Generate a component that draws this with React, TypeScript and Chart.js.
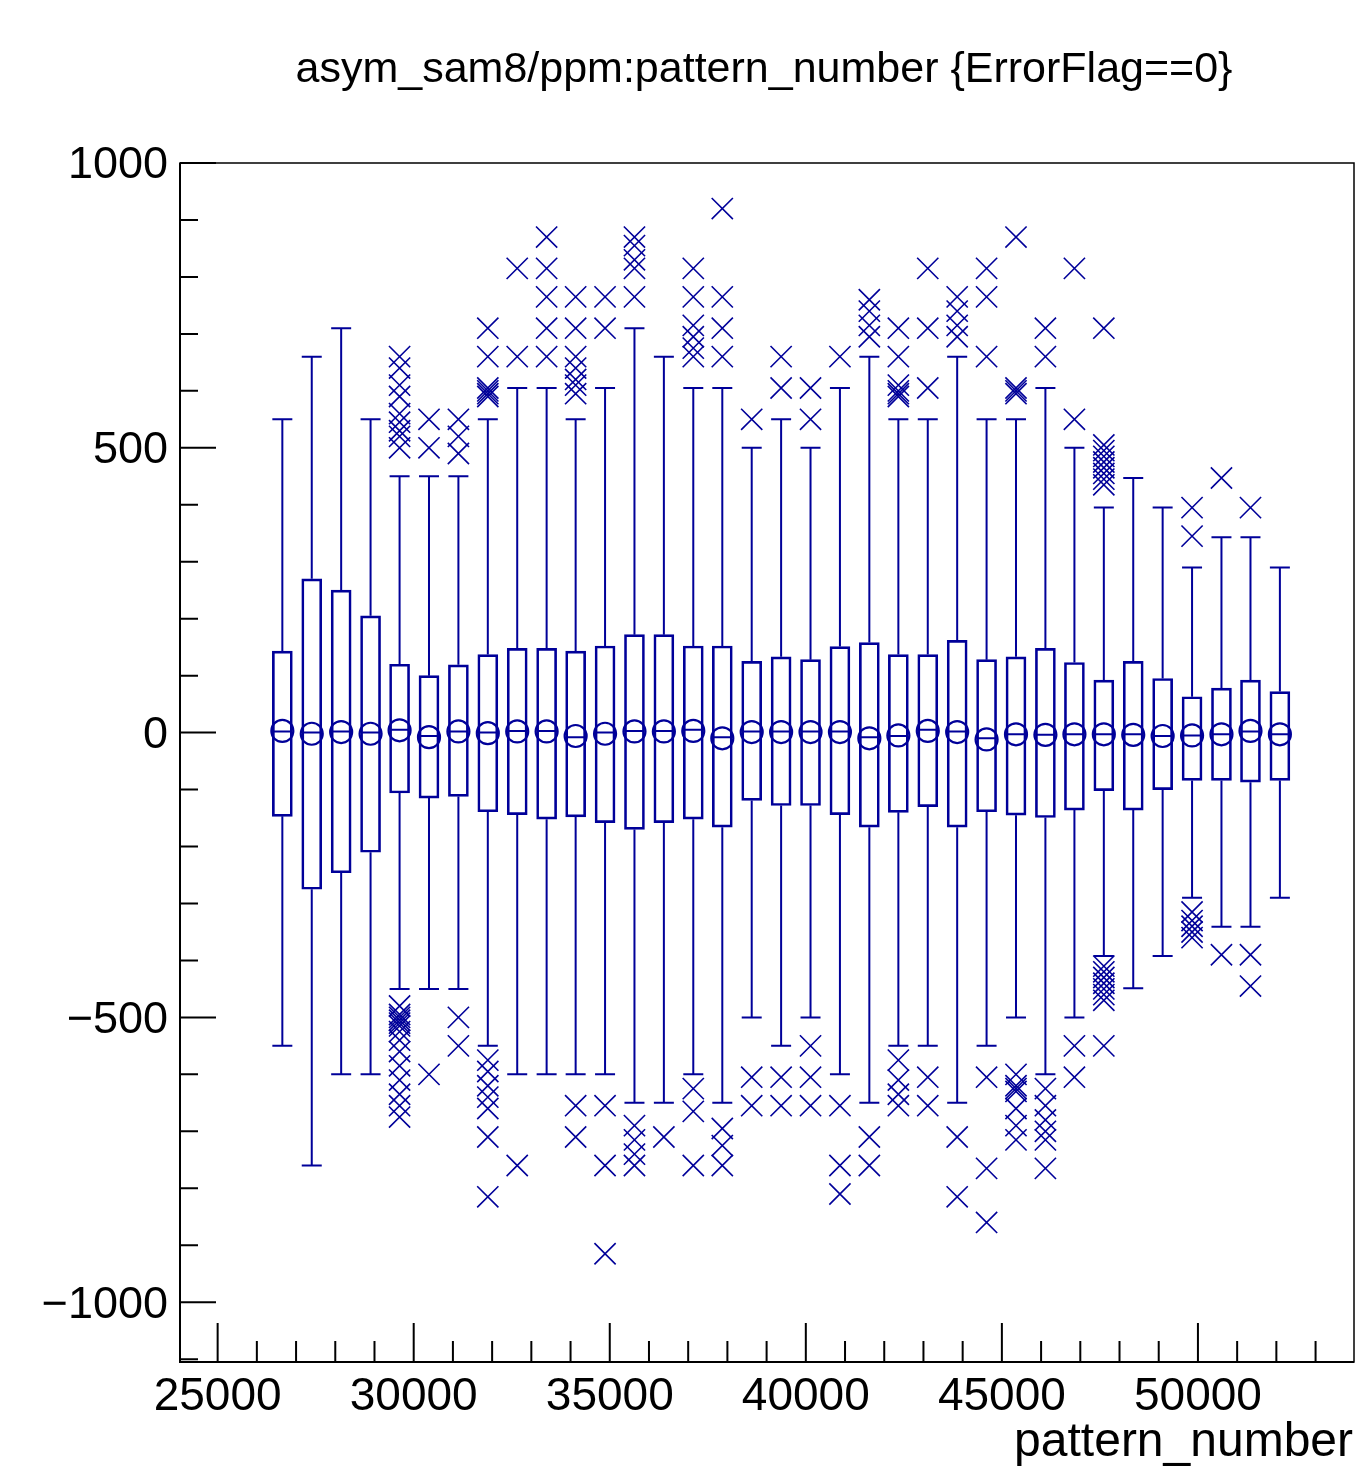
import React, { useEffect, useRef } from 'react';
import { Chart, registerables } from 'chart.js';

Chart.register(...registerables);

const TITLE = 'asym_sam8/ppm:pattern_number {ErrorFlag==0}';
const X_TITLE = 'pattern_number';

const X_MIN = 24040;
const X_MAX = 53980;
const Y_MIN = -1105;
const Y_MAX = 1000;

const X_MAJOR_TICKS = [25000, 30000, 35000, 40000, 45000, 50000];
const Y_MAJOR_TICKS = [-1000, -500, 0, 500, 1000];

// bin centres (pattern_number)
const BIN_CENTERS = [
  26650, 27400, 28150, 28900, 29640, 30390, 31140, 31890, 32640, 33390,
  34130, 34880, 35630, 36380, 37130, 37870, 38620, 39370, 40120, 40870,
  41620, 42360, 43110, 43860, 44610, 45360, 46110, 46850, 47600, 48350,
  49100, 49850, 50600, 51340, 52090,
];

const WHISKER_HI = [
  550, 660, 710, 550, 450, 450, 450, 550, 605, 605,
  550, 605, 710, 660, 605, 605, 500, 550, 500, 605,
  660, 550, 550, 660, 550, 550, 605, 500, 395, 447,
  395, 290, 343, 343, 290,
];
const Q3 = [
  143, 270, 250, 205, 120, 100, 119, 137, 148, 148,
  143, 152, 172, 172, 152, 152, 125, 133, 128, 151,
  158, 137, 137, 162, 128, 133, 148, 123, 92, 125,
  95, 63, 78, 92, 72,
];
const MEDIAN = [
  2, 0, 2, 0, 5, -6, 2, 0, 3, 3,
  -8, 0, 3, 3, 5, -8, 2, 2, 2, 2,
  -8, -6, 5, 2, -10, -3, -4, -3, -3, -3,
  -6, -5, -3, 2, -3,
];
const MEAN = [
  3, -2, 1, -2, 4, -8, 2, -1, 2, 2,
  -6, -2, 2, 2, 3, -10, 1, 1, 1, 1,
  -10, -5, 3, 1, -12, -3, -4, -3, -3, -4,
  -6, -5, -3, 3, -3,
];
const Q1 = [
  -147, -275, -246, -210, -106, -115, -112, -139, -144, -152,
  -148, -158, -170, -158, -152, -166, -119, -128, -128, -144,
  -166, -140, -130, -166, -139, -145, -149, -136, -102, -136,
  -100, -84, -84, -87, -84,
];
const WHISKER_LO = [
  -550, -760, -600, -600, -450, -450, -450, -550, -600, -600,
  -600, -600, -650, -650, -600, -650, -500, -550, -500, -600,
  -650, -550, -550, -650, -550, -500, -600, -500, -392, -449,
  -392, -290, -341, -341, -290,
];

// outliers for each bin (same order as BIN_CENTERS)
const OUTLIERS: number[][] = [
  [],
  [],
  [],
  [],
  [660, 640, 610, 590, 560, 545, 530, 520, 500, -480, -495, -500, -505, -510, -515, -525, -540, -560, -585, -610, -635, -655, -675],
  [550, 500, -600],
  [550, 520, 490, -500, -550],
  [710, 660, 605, 600, 595, 590, -575, -595, -620, -640, -660, -710, -815],
  [815, 660, -760],
  [870, 815, 765, 710, 660],
  [765, 710, 660, 640, 620, 610, 595, -655, -710],
  [765, 710, -655, -760, -915],
  [870, 855, 830, 815, 765, -690, -715, -740, -760],
  [-710],
  [815, 765, 715, 695, 675, 660, -625, -665, -760],
  [920, 765, 710, 660, -695, -725, -760],
  [550, -605, -655],
  [660, 605, -605, -655],
  [605, 550, -550, -605, -655],
  [660, -655, -760, -810],
  [760, 740, 715, 695, -710, -760],
  [710, 660, 610, 600, 595, 590, -575, -610, -635, -655],
  [815, 710, 605, -605, -655],
  [765, 740, 715, 695, -710, -815],
  [815, 765, 660, -605, -765, -860],
  [870, 605, 600, 595, -600, -620, -625, -630, -660, -690, -715],
  [710, 660, -625, -655, -680, -700, -715, -765],
  [815, 550, -550, -605],
  [710, 505, 495, 485, 475, 465, 455, 445, 435, -410, -420, -430, -440, -450, -460, -470, -550],
  [],
  [],
  [395, 345, -315, -330, -340, -350, -360],
  [447, -390],
  [395, -390, -445],
  [],
];

const BLUE = 'rgb(0,0,153)';
const FONT = '"Liberation Sans", Arial, Helvetica, sans-serif';
const WIDTH = 1361;
const HEIGHT = 1470;

const whiskerPlugin = {
  id: 'candleWhiskers',
  afterDatasetsDraw(chart: any) {
    const { ctx, scales } = chart;
    const xs = scales.x;
    const ys = scales.y;
    const bars = chart.getDatasetMeta(0).data;
    ctx.save();
    ctx.beginPath();
    ctx.rect(chart.chartArea.left, chart.chartArea.top, chart.chartArea.right - chart.chartArea.left, chart.chartArea.bottom - chart.chartArea.top);
    ctx.clip();
    ctx.strokeStyle = BLUE;
    ctx.lineWidth = 2;
    BIN_CENTERS.forEach((xv, i) => {
      const bar = bars[i];
      const half = bar ? bar.width / 2 : 10;
      const px = xs.getPixelForValue(xv);
      const pHi = ys.getPixelForValue(WHISKER_HI[i]);
      const pQ3 = ys.getPixelForValue(Q3[i]);
      const pMed = ys.getPixelForValue(MEDIAN[i]);
      const pQ1 = ys.getPixelForValue(Q1[i]);
      const pLo = ys.getPixelForValue(WHISKER_LO[i]);
      ctx.beginPath();
      ctx.moveTo(px, pQ3);
      ctx.lineTo(px, pHi);
      ctx.moveTo(px - half, pHi);
      ctx.lineTo(px + half, pHi);
      ctx.moveTo(px, pQ1);
      ctx.lineTo(px, pLo);
      ctx.moveTo(px - half, pLo);
      ctx.lineTo(px + half, pLo);
      ctx.moveTo(px - half, pMed);
      ctx.lineTo(px + half, pMed);
      ctx.stroke();
    });
    ctx.restore();
  },
};

const fmt = (v: number) => (v < 0 ? '\u2212' + Math.abs(v) : String(v));

const axesPlugin = {
  id: 'rootAxes',
  afterDraw(chart: any) {
    const { ctx, chartArea: a, scales } = chart;
    const xs = scales.x;
    const ys = scales.y;
    ctx.save();
    ctx.strokeStyle = '#000';
    ctx.lineWidth = 1.5;
    ctx.strokeRect(a.left, a.top, a.right - a.left, a.bottom - a.top);
    ctx.lineWidth = 2;
    ctx.beginPath();
    ctx.moveTo(a.left, a.top);
    ctx.lineTo(a.left, a.bottom);
    ctx.lineTo(a.right, a.bottom);
    ctx.stroke();

    ctx.lineWidth = 2;
    ctx.beginPath();
    for (let v = Math.ceil(X_MIN / 1000) * 1000; v <= X_MAX; v += 1000) {
      const px = xs.getPixelForValue(v);
      const len = v % 5000 === 0 ? 39 : 21;
      ctx.moveTo(px, a.bottom);
      ctx.lineTo(px, a.bottom - len);
    }
    for (let v = Math.ceil(Y_MIN / 100) * 100; v <= Y_MAX; v += 100) {
      const py = ys.getPixelForValue(v);
      const len = v % 500 === 0 ? 36 : 18;
      ctx.moveTo(a.left, py);
      ctx.lineTo(a.left + len, py);
    }
    ctx.stroke();

    ctx.fillStyle = '#000';
    ctx.font = '46px ' + FONT;
    ctx.textAlign = 'center';
    ctx.textBaseline = 'alphabetic';
    X_MAJOR_TICKS.forEach((v) => {
      ctx.fillText(String(v), xs.getPixelForValue(v), a.bottom + 48);
    });

    ctx.font = '45px ' + FONT;
    ctx.textAlign = 'right';
    ctx.textBaseline = 'middle';
    Y_MAJOR_TICKS.forEach((v) => {
      ctx.fillText(fmt(v), a.left - 12, ys.getPixelForValue(v) + 3);
    });

    ctx.font = '48px ' + FONT;
    ctx.textAlign = 'right';
    ctx.textBaseline = 'alphabetic';
    ctx.fillText(X_TITLE, a.right - 1, a.bottom + 94);

    ctx.font = '43px ' + FONT;
    ctx.textAlign = 'center';
    ctx.fillText(TITLE, 764, 82);
    ctx.restore();
  },
};

export default function App() {
  const ref = useRef<HTMLCanvasElement>(null);

  useEffect(() => {
    const canvas = ref.current;
    if (!canvas) return;
    const boxData = BIN_CENTERS.map((x, i) => ({ x, y: [Q1[i], Q3[i]] }));
    const meanData = BIN_CENTERS.map((x, i) => ({ x, y: MEAN[i] }));
    const outlierData: { x: number; y: number }[] = [];
    OUTLIERS.forEach((vals, i) => {
      vals.forEach((v) => outlierData.push({ x: BIN_CENTERS[i], y: v }));
    });

    const chart = new Chart(canvas, {
      type: 'bar',
      data: {
        datasets: [
          {
            type: 'bar',
            label: 'box',
            data: boxData as any,
            backgroundColor: 'rgba(0,0,0,0)',
            borderColor: BLUE,
            borderWidth: 2,
            borderSkipped: false,
            barThickness: 20,
            grouped: false,
          } as any,
          {
            type: 'scatter',
            label: 'mean',
            data: meanData,
            pointStyle: 'circle',
            pointRadius: 11,
            borderWidth: 2.2,
            borderColor: BLUE,
            backgroundColor: 'rgba(0,0,0,0)',
          } as any,
          {
            type: 'scatter',
            label: 'outliers',
            data: outlierData,
            pointStyle: 'crossRot',
            pointRadius: 15,
            borderWidth: 1.6,
            borderColor: BLUE,
            backgroundColor: 'rgba(0,0,0,0)',
          } as any,
        ],
      },
      options: {
        animation: false,
        responsive: false,
        maintainAspectRatio: false,
        devicePixelRatio: 1,
        events: [],
        layout: { autoPadding: false, padding: { left: 180, top: 163, right: 7, bottom: 108 } },
        plugins: {
          legend: { display: false },
          title: { display: false },
          tooltip: { enabled: false },
        },
        scales: {
          x: { type: 'linear', min: X_MIN, max: X_MAX, offset: false, display: false },
          y: { type: 'linear', min: Y_MIN, max: Y_MAX, offset: false, display: false },
        },
      },
      plugins: [whiskerPlugin, axesPlugin],
    });
    return () => chart.destroy();
  }, []);

  return (
    <div style={{ position: 'absolute', left: 0, top: 0, width: WIDTH, height: HEIGHT, background: '#fff' }}>
      <canvas ref={ref} width={WIDTH} height={HEIGHT} style={{ display: 'block', width: WIDTH, height: HEIGHT }} />
    </div>
  );
}
